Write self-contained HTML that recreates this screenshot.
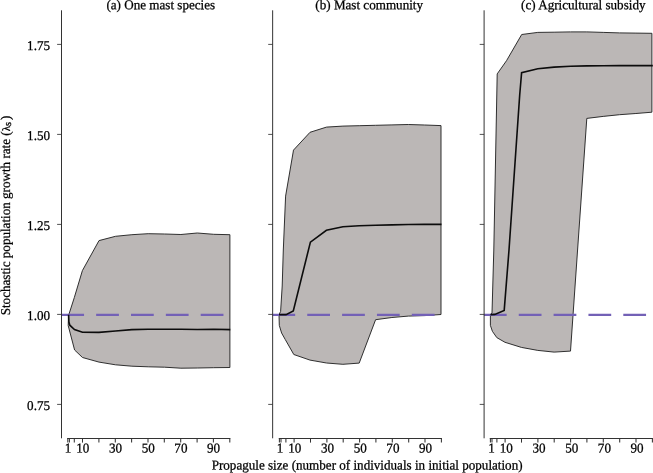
<!DOCTYPE html>
<html><head><meta charset="utf-8"><title>Figure</title>
<style>
html,body{margin:0;padding:0;background:#fff;}
svg{display:block;will-change:transform;}
text{font-family:"Liberation Serif","DejaVu Serif",serif;font-size:13.1px;fill:#000;stroke:#000;stroke-width:0.25px;text-rendering:geometricPrecision;}
</style></head><body>
<svg width="653" height="473" viewBox="0 0 653 473">
<rect width="653" height="473" fill="#fff"/>
<polygon points="68.8,314.7 74.3,297.6 82.4,270.6 99.0,240.6 115.5,236.3 131.9,234.7 148.2,233.7 164.6,234.0 180.9,234.5 197.3,233.0 213.7,234.3 229.9,234.7 229.9,367.5 213.7,367.7 197.3,368.0 180.9,368.2 164.6,367.2 148.2,366.8 131.9,366.2 115.5,364.8 99.0,362.1 82.5,357.5 74.6,350.0 68.2,325.6 68.5,314.7" fill="#bbb7b6" stroke="#262626" stroke-width="0.95" stroke-linejoin="miter"/>
<polygon points="279.0,314.5 280.6,311.5 282.2,286.0 283.3,250.0 285.6,196.1 293.5,150.1 310.0,132.3 326.5,127.1 342.9,126.1 359.2,125.7 375.6,125.3 391.9,124.9 408.3,124.5 424.7,125.0 441.0,125.6 441.0,314.5 424.7,315.6 408.3,316.1 391.9,317.5 375.6,319.7 359.2,363.1 342.9,364.3 326.5,363.0 310.0,360.1 293.8,354.5 285.3,339.6 281.6,333.0 279.3,325.4 279.0,314.5" fill="#bbb7b6" stroke="#262626" stroke-width="0.95" stroke-linejoin="miter"/>
<polygon points="490.4,314.6 492.0,313.0 493.8,250.0 497.2,73.9 506.5,60.7 521.7,34.5 537.8,32.4 554.1,32.2 570.5,31.9 586.8,31.9 603.2,32.4 619.6,32.9 635.9,33.1 651.9,33.3 651.9,112.2 635.9,113.5 619.6,114.7 603.2,116.4 586.8,118.4 570.5,351.1 554.1,352.1 537.8,350.4 521.4,347.4 505.0,342.3 496.8,337.6 492.4,331.3 490.4,325.4 490.4,314.6" fill="#bbb7b6" stroke="#262626" stroke-width="0.95" stroke-linejoin="miter"/>
<line x1="61.3" y1="314.85" x2="235" y2="314.85" stroke="#7361b6" stroke-width="2.1" stroke-dasharray="22.75 12.1"/>
<line x1="272.4" y1="314.85" x2="446" y2="314.85" stroke="#7361b6" stroke-width="2.1" stroke-dasharray="22.75 12.1"/>
<line x1="483.9" y1="314.85" x2="653" y2="314.85" stroke="#7361b6" stroke-width="2.1" stroke-dasharray="22.75 12.1"/>
<polyline points="68.6,314.7 68.9,322.0 69.8,325.2 74.5,329.5 82.5,332.2 99.0,332.4 115.5,331.0 131.9,329.6 148.2,329.2 164.6,329.2 180.9,329.3 197.3,329.5 213.7,329.3 230.3,329.6" fill="none" stroke="#0c0c0c" stroke-width="1.6" stroke-linejoin="miter"/>
<polyline points="279.0,314.6 286.0,314.6 293.3,311.0 310.4,242.1 326.4,230.3 342.9,226.8 359.2,225.7 375.6,225.2 391.9,224.9 408.3,224.5 424.7,224.4 441.5,224.4" fill="none" stroke="#0c0c0c" stroke-width="1.6" stroke-linejoin="miter"/>
<polyline points="490.4,314.6 494.8,314.4 504.2,310.4 509.0,250.0 519.7,95.0 521.6,72.7 537.8,68.8 554.1,67.1 570.5,66.3 586.8,65.9 603.2,65.8 619.6,65.6 635.9,65.6 652.8,65.6" fill="none" stroke="#0c0c0c" stroke-width="1.6" stroke-linejoin="miter"/>
<line x1="61.5" y1="10.3" x2="61.5" y2="438.3" stroke="#333333" stroke-width="1"/>
<line x1="57.1" y1="44.4" x2="61.5" y2="44.4" stroke="#333333" stroke-width="0.85"/>
<line x1="57.1" y1="134.4" x2="61.5" y2="134.4" stroke="#333333" stroke-width="0.85"/>
<line x1="57.1" y1="224.4" x2="61.5" y2="224.4" stroke="#333333" stroke-width="0.85"/>
<line x1="57.1" y1="314.4" x2="61.5" y2="314.4" stroke="#333333" stroke-width="0.85"/>
<line x1="57.1" y1="404.4" x2="61.5" y2="404.4" stroke="#333333" stroke-width="0.85"/>
<line x1="67.2" y1="438.5" x2="230.3" y2="438.5" stroke="#333333" stroke-width="1"/>
<line x1="67.8" y1="438.3" x2="67.8" y2="442.6" stroke="#333333" stroke-width="1.05"/>
<line x1="69.4" y1="438.3" x2="69.4" y2="442.6" stroke="#333333" stroke-width="1.05"/>
<line x1="74.3" y1="438.3" x2="74.3" y2="442.6" stroke="#333333" stroke-width="1.05"/>
<line x1="82.5" y1="438.3" x2="82.5" y2="442.6" stroke="#333333" stroke-width="1.05"/>
<line x1="98.9" y1="438.3" x2="98.9" y2="442.6" stroke="#333333" stroke-width="1.05"/>
<line x1="115.3" y1="438.3" x2="115.3" y2="442.6" stroke="#333333" stroke-width="1.05"/>
<line x1="131.6" y1="438.3" x2="131.6" y2="442.6" stroke="#333333" stroke-width="1.05"/>
<line x1="148.0" y1="438.3" x2="148.0" y2="442.6" stroke="#333333" stroke-width="1.05"/>
<line x1="164.3" y1="438.3" x2="164.3" y2="442.6" stroke="#333333" stroke-width="1.05"/>
<line x1="180.7" y1="438.3" x2="180.7" y2="442.6" stroke="#333333" stroke-width="1.05"/>
<line x1="197.1" y1="438.3" x2="197.1" y2="442.6" stroke="#333333" stroke-width="1.05"/>
<line x1="213.4" y1="438.3" x2="213.4" y2="442.6" stroke="#333333" stroke-width="1.05"/>
<line x1="229.8" y1="438.3" x2="229.8" y2="442.6" stroke="#333333" stroke-width="1.05"/>
<text transform="translate(68.0,452.4) rotate(0.03) scale(1,1.03)" text-anchor="middle">1</text>
<text transform="translate(82.7,452.4) rotate(0.03) scale(1,1.03)" text-anchor="middle">10</text>
<text transform="translate(115.5,452.4) rotate(0.03) scale(1,1.03)" text-anchor="middle">30</text>
<text transform="translate(148.2,452.4) rotate(0.03) scale(1,1.03)" text-anchor="middle">50</text>
<text transform="translate(180.9,452.4) rotate(0.03) scale(1,1.03)" text-anchor="middle">70</text>
<text transform="translate(213.6,452.4) rotate(0.03) scale(1,1.03)" text-anchor="middle">90</text>
<line x1="272.65" y1="10.3" x2="272.65" y2="438.3" stroke="#333333" stroke-width="1"/>
<line x1="268.2" y1="44.4" x2="272.65" y2="44.4" stroke="#333333" stroke-width="0.85"/>
<line x1="268.2" y1="134.4" x2="272.65" y2="134.4" stroke="#333333" stroke-width="0.85"/>
<line x1="268.2" y1="224.4" x2="272.65" y2="224.4" stroke="#333333" stroke-width="0.85"/>
<line x1="268.2" y1="314.4" x2="272.65" y2="314.4" stroke="#333333" stroke-width="0.85"/>
<line x1="268.2" y1="404.4" x2="272.65" y2="404.4" stroke="#333333" stroke-width="0.85"/>
<line x1="278.8" y1="438.5" x2="441.9" y2="438.5" stroke="#333333" stroke-width="1"/>
<line x1="279.4" y1="438.3" x2="279.4" y2="442.6" stroke="#333333" stroke-width="1.05"/>
<line x1="281.0" y1="438.3" x2="281.0" y2="442.6" stroke="#333333" stroke-width="1.05"/>
<line x1="285.9" y1="438.3" x2="285.9" y2="442.6" stroke="#333333" stroke-width="1.05"/>
<line x1="294.1" y1="438.3" x2="294.1" y2="442.6" stroke="#333333" stroke-width="1.05"/>
<line x1="310.5" y1="438.3" x2="310.5" y2="442.6" stroke="#333333" stroke-width="1.05"/>
<line x1="326.9" y1="438.3" x2="326.9" y2="442.6" stroke="#333333" stroke-width="1.05"/>
<line x1="343.2" y1="438.3" x2="343.2" y2="442.6" stroke="#333333" stroke-width="1.05"/>
<line x1="359.6" y1="438.3" x2="359.6" y2="442.6" stroke="#333333" stroke-width="1.05"/>
<line x1="375.9" y1="438.3" x2="375.9" y2="442.6" stroke="#333333" stroke-width="1.05"/>
<line x1="392.3" y1="438.3" x2="392.3" y2="442.6" stroke="#333333" stroke-width="1.05"/>
<line x1="408.7" y1="438.3" x2="408.7" y2="442.6" stroke="#333333" stroke-width="1.05"/>
<line x1="425.0" y1="438.3" x2="425.0" y2="442.6" stroke="#333333" stroke-width="1.05"/>
<line x1="441.4" y1="438.3" x2="441.4" y2="442.6" stroke="#333333" stroke-width="1.05"/>
<text transform="translate(280.0,452.4) rotate(0.03) scale(1,1.03)" text-anchor="middle">1</text>
<text transform="translate(294.7,452.4) rotate(0.03) scale(1,1.03)" text-anchor="middle">10</text>
<text transform="translate(327.5,452.4) rotate(0.03) scale(1,1.03)" text-anchor="middle">30</text>
<text transform="translate(360.2,452.4) rotate(0.03) scale(1,1.03)" text-anchor="middle">50</text>
<text transform="translate(392.9,452.4) rotate(0.03) scale(1,1.03)" text-anchor="middle">70</text>
<text transform="translate(425.6,452.4) rotate(0.03) scale(1,1.03)" text-anchor="middle">90</text>
<line x1="484.1" y1="10.3" x2="484.1" y2="438.3" stroke="#333333" stroke-width="1"/>
<line x1="479.7" y1="44.4" x2="484.1" y2="44.4" stroke="#333333" stroke-width="0.85"/>
<line x1="479.7" y1="134.4" x2="484.1" y2="134.4" stroke="#333333" stroke-width="0.85"/>
<line x1="479.7" y1="224.4" x2="484.1" y2="224.4" stroke="#333333" stroke-width="0.85"/>
<line x1="479.7" y1="314.4" x2="484.1" y2="314.4" stroke="#333333" stroke-width="0.85"/>
<line x1="479.7" y1="404.4" x2="484.1" y2="404.4" stroke="#333333" stroke-width="0.85"/>
<line x1="489.8" y1="438.5" x2="652.9" y2="438.5" stroke="#333333" stroke-width="1"/>
<line x1="490.4" y1="438.3" x2="490.4" y2="442.6" stroke="#333333" stroke-width="1.05"/>
<line x1="492.0" y1="438.3" x2="492.0" y2="442.6" stroke="#333333" stroke-width="1.05"/>
<line x1="496.9" y1="438.3" x2="496.9" y2="442.6" stroke="#333333" stroke-width="1.05"/>
<line x1="505.1" y1="438.3" x2="505.1" y2="442.6" stroke="#333333" stroke-width="1.05"/>
<line x1="521.5" y1="438.3" x2="521.5" y2="442.6" stroke="#333333" stroke-width="1.05"/>
<line x1="537.9" y1="438.3" x2="537.9" y2="442.6" stroke="#333333" stroke-width="1.05"/>
<line x1="554.2" y1="438.3" x2="554.2" y2="442.6" stroke="#333333" stroke-width="1.05"/>
<line x1="570.6" y1="438.3" x2="570.6" y2="442.6" stroke="#333333" stroke-width="1.05"/>
<line x1="586.9" y1="438.3" x2="586.9" y2="442.6" stroke="#333333" stroke-width="1.05"/>
<line x1="603.3" y1="438.3" x2="603.3" y2="442.6" stroke="#333333" stroke-width="1.05"/>
<line x1="619.7" y1="438.3" x2="619.7" y2="442.6" stroke="#333333" stroke-width="1.05"/>
<line x1="636.0" y1="438.3" x2="636.0" y2="442.6" stroke="#333333" stroke-width="1.05"/>
<line x1="652.4" y1="438.3" x2="652.4" y2="442.6" stroke="#333333" stroke-width="1.05"/>
<text transform="translate(491.5,452.4) rotate(0.03) scale(1,1.03)" text-anchor="middle">1</text>
<text transform="translate(506.2,452.4) rotate(0.03) scale(1,1.03)" text-anchor="middle">10</text>
<text transform="translate(539.0,452.4) rotate(0.03) scale(1,1.03)" text-anchor="middle">30</text>
<text transform="translate(571.7,452.4) rotate(0.03) scale(1,1.03)" text-anchor="middle">50</text>
<text transform="translate(604.4,452.4) rotate(0.03) scale(1,1.03)" text-anchor="middle">70</text>
<text transform="translate(637.1,452.4) rotate(0.03) scale(1,1.03)" text-anchor="middle">90</text>
<text transform="translate(50.0,50.1) rotate(0.03) scale(1,1.03)" text-anchor="end">1.75</text>
<text transform="translate(50.0,140.1) rotate(0.03) scale(1,1.03)" text-anchor="end">1.50</text>
<text transform="translate(50.0,230.1) rotate(0.03) scale(1,1.03)" text-anchor="end">1.25</text>
<text transform="translate(50.0,320.1) rotate(0.03) scale(1,1.03)" text-anchor="end">1.00</text>
<text transform="translate(50.0,410.1) rotate(0.03) scale(1,1.03)" text-anchor="end">0.75</text>
<text transform="translate(160.8,9.2) rotate(0.03) scale(1,1.03)" text-anchor="middle">(a) One mast species</text>
<text transform="translate(369.2,9.2) rotate(0.03) scale(1,1.03)" text-anchor="middle">(b) Mast community</text>
<text transform="translate(583.3,9.2) rotate(0.03) scale(1,1.03)" text-anchor="middle">(c) Agricultural subsidy</text>
<text transform="translate(367.1,469.5) rotate(0.03) scale(1,1.03)" text-anchor="middle">Propagule size (number of individuals in initial population)</text>
<text transform="translate(9.6,315.3) rotate(-90) scale(1,1.03)" text-anchor="start" font-size="13.2">Stochastic population growth rate (<tspan font-size="11">λ</tspan><tspan font-size="10.3" dy="1.6">s</tspan><tspan dy="-1.6" dx="2">)</tspan></text>
</svg></body></html>
